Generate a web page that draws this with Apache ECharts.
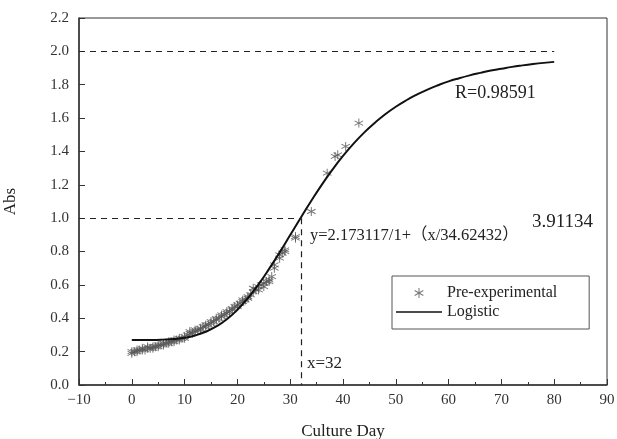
<!DOCTYPE html>
<html><head><meta charset="utf-8">
<script src="https://cdn.jsdelivr.net/npm/echarts@6/dist/echarts.min.js"></script>
<style>html,body{margin:0;padding:0;background:#fff}#c{width:617px;height:439px}</style>
</head><body><div id="c"></div>
<script>
const obsX = [0,0,0.5,1,1,1.5,2,2,2.5,3,3,3.5,4,4,4.5,5,5,5.5,6,6,6.5,7,7,7.5,8,8,8.5,9,9,9.5,10,10,10.5,11,11,11.5,12,12,12.5,13,13,13.5,14,14,14.5,15,15,15.5,16,16,16.5,17,17,17.5,18,18,18.5,19,19,19.5,20,20,20.5,21,21,21.5,22,22,22.5,23,23,23.5,24,24,24.5,25,25,25.5,26,26,26.5,27,27,28,28,28.5,29,29,31,31,34,37,38.5,39,40.5,43];
const obsY = [0.19,0.20,0.20,0.20,0.21,0.21,0.21,0.22,0.21,0.22,0.23,0.22,0.23,0.22,0.23,0.23,0.24,0.24,0.24,0.25,0.25,0.25,0.26,0.26,0.26,0.27,0.27,0.27,0.28,0.28,0.29,0.28,0.30,0.31,0.32,0.31,0.33,0.32,0.33,0.33,0.34,0.35,0.35,0.36,0.36,0.37,0.38,0.38,0.39,0.40,0.40,0.41,0.42,0.42,0.43,0.44,0.44,0.45,0.46,0.47,0.48,0.47,0.49,0.50,0.51,0.51,0.53,0.52,0.54,0.56,0.58,0.57,0.59,0.57,0.60,0.61,0.59,0.62,0.63,0.62,0.65,0.70,0.72,0.76,0.78,0.79,0.80,0.81,0.88,0.89,1.04,1.27,1.37,1.38,1.43,1.57];
// Logistic fitted curve
const fitX = [0,2,4,6,8,10,12,14,16,18,20,22,24,26,28,30,32,34,36,38,40,42,44,46,48,50,52,54,56,58,60,62,64,66,68,70,72,74,76,78,80];
const fitY = [0.270,0.270,0.270,0.272,0.276,0.283,0.297,0.319,0.351,0.394,0.451,0.521,0.603,0.696,0.795,0.899,1.003,1.104,1.201,1.291,1.373,1.447,1.513,1.571,1.623,1.668,1.707,1.741,1.771,1.797,1.820,1.839,1.856,1.871,1.885,1.896,1.907,1.916,1.924,1.931,1.937];
// Reference dashed guide lines
const guideA = [[-10,2.0],[80,2.0]];
const guideB = [[-10,1.0],[32,1.0]];
const guideC = [[32,1.0],[32,0.0]];
const texts = {r:'R=0.98591', eq:'y=2.173117/1+\uFF08x/34.62432\uFF09', exp:'3.91134', xv:'x=32'};

const serif = '"Liberation Serif","DejaVu Serif","Noto Sans CJK SC",serif';
const starPath = 'path://M4.5 0L5.5 0L5.5 10L4.5 10ZM9.08 2.07L9.58 2.93L0.92 7.93L0.42 7.07ZM0.42 2.93L0.92 2.07L9.58 7.07L9.08 7.93Z';

const chart = echarts.init(document.getElementById('c'));
chart.setOption({
  animation:false,
  backgroundColor:'#fff',
  grid:{left:79,right:10,top:18,bottom:54,show:true,borderColor:'#333',borderWidth:1,outerBoundsMode:'none'},
  xAxis:{type:'value',min:-10,max:90,interval:10,
    name:'Culture Day',nameLocation:'middle',nameGap:38,
    nameTextStyle:{fontFamily:serif,fontSize:17,color:'#222'},
    axisLine:{onZero:false,lineStyle:{color:'#333',width:1.5}},
    axisTick:{inside:true,length:6,lineStyle:{color:'#333'}},
    minorTick:{show:true,splitNumber:2,length:3,lineStyle:{color:'#333'}},
    splitLine:{show:false},
    axisLabel:{fontFamily:serif,fontSize:15,color:'#333',margin:8,
      formatter:v=>v<0?'\u2212'+Math.abs(v):String(v)}},
  yAxis:{type:'value',min:0,max:2.2,interval:0.2,
    name:'Abs',nameLocation:'middle',nameGap:60,nameRotate:90,
    nameTextStyle:{fontFamily:serif,fontSize:17,color:'#222'},
    axisLine:{show:true,onZero:false,lineStyle:{color:'#333',width:1.5}},
    axisTick:{show:true,inside:true,length:6,lineStyle:{color:'#333'}},
    splitLine:{show:false},
    axisLabel:{fontFamily:serif,fontSize:15,color:'#333',margin:10,formatter:v=>v.toFixed(1)}},
  legend:{orient:'vertical',left:392,top:276,
    padding:[9,32,9,4],itemGap:3,itemWidth:46,itemHeight:10,
    borderColor:'#555',borderWidth:1,backgroundColor:'#fff',
    textStyle:{fontFamily:serif,fontSize:16,color:'#222'},
    data:[{name:'Pre-experimental'},{name:'Logistic',icon:'path://M0 4.3H46V5.7H0Z',itemStyle:{color:'#111'}}]},
  series:[
    {name:'Pre-experimental',type:'scatter',data:obsX.map((x,i)=>[x,obsY[i]]),
      symbol:starPath,symbolSize:9,itemStyle:{color:'#555'},z:3},
    {name:'Logistic',type:'line',data:fitX.map((x,i)=>[x,fitY[i]]),smooth:true,
      showSymbol:false,symbol:'none',lineStyle:{color:'#111',width:2},itemStyle:{color:'#111'},z:4,
      markLine:{silent:true,symbol:'none',label:{show:false},
        lineStyle:{color:'#222',type:[6,5],width:1.2},
        data:[guideA,guideB,guideC].map(g=>[{coord:g[0]},{coord:g[1]}])}}
  ],
  graphic:[
    {type:'text',left:455,top:84,style:{text:texts.r,font:'18px '+serif,fill:'#222'}},
    {type:'text',left:310,top:227,style:{text:texts.eq,font:'16.5px '+serif,fill:'#222'}},
    {type:'text',left:532,top:213,style:{text:texts.exp,font:'19px '+serif,fill:'#222'}},
    {type:'text',left:307,top:355,style:{text:texts.xv,font:'17px '+serif,fill:'#222'}}
  ]
});
</script></body></html>
